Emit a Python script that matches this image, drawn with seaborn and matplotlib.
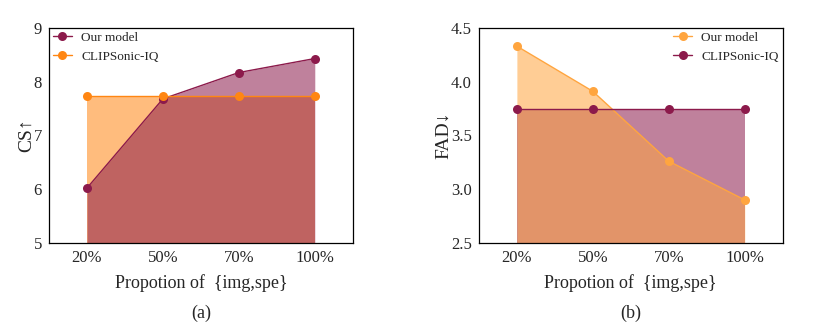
import numpy as np
import pandas as pd
import seaborn as sns
import matplotlib.pyplot as plt

# data
props = ['20%', '50%', '70%', '100%']
cs_ours = [6.02, 7.68, 8.17, 8.43]
cs_clip = [7.74, 7.74, 7.74, 7.74]
fad_ours = [4.33, 3.91, 3.26, 2.90]
fad_clip = [3.75, 3.75, 3.75, 3.75]

purple = '#8c1a4b'
orange_a = '#ff8612'
orange_b = '#ffa53f'

sns.set_style('white')
plt.rcParams['font.family'] = ['Liberation Serif', 'DejaVu Serif']

fig = plt.figure(figsize=(8.3, 3.36), dpi=100)
ax1 = fig.add_axes([0.059, 0.277, 0.366, 0.64])
ax2 = fig.add_axes([0.577, 0.277, 0.366, 0.64])


def panel(ax, ours, clip, ylim, ours_c, clip_c, ylabel, loc, tag):
    x = np.arange(len(props))
    df = pd.DataFrame({
        'x': np.concatenate([x, x]),
        'y': ours + clip,
        'model': ['Our model'] * 4 + ['CLIPSonic-IQ'] * 4,
    })
    sns.lineplot(data=df, x='x', y='y', hue='model', marker='o', markersize=6.5,
                 markeredgewidth=0, linewidth=1.0,
                 palette={'Our model': ours_c, 'CLIPSonic-IQ': clip_c}, ax=ax)
    ax.fill_between(x, clip, ylim[0], color=clip_c, alpha=0.55, linewidth=0)
    ax.fill_between(x, ours, ylim[0], color=ours_c, alpha=0.55, linewidth=0)
    ax.set_xlim(-0.5, 3.5)
    ax.set_ylim(*ylim)
    ax.set_xticks(x)
    ax.set_xticklabels(props)
    ax.set_xlabel('Propotion of  {img,spe}', fontsize=13, labelpad=6)
    ax.set_ylabel(ylabel, fontsize=14, labelpad=-1)
    ax.tick_params(axis='both', direction='in', length=2, labelsize=12, pad=5)
    for s in ax.spines.values():
        s.set_color('black')
        s.set_linewidth(0.9)
    ax.legend(loc=loc, frameon=False, fontsize=9.5, handlelength=1.45,
              handletextpad=0.7, borderaxespad=0.05, borderpad=0.25,
              labelspacing=0.5)
    ax.text(0.5, -0.326, tag, transform=ax.transAxes, ha='center', va='center', fontsize=13)


panel(ax1, cs_ours, cs_clip, (5, 9), purple, orange_a, 'CS↑', 'upper left', '(a)')
ax1.set_yticks([5, 6, 7, 8, 9])
panel(ax2, fad_ours, fad_clip, (2.5, 4.5), orange_b, purple, 'FAD↓', 'upper right', '(b)')
ax2.set_yticks([2.5, 3.0, 3.5, 4.0, 4.5])

fig.savefig('out.png', dpi=100)
